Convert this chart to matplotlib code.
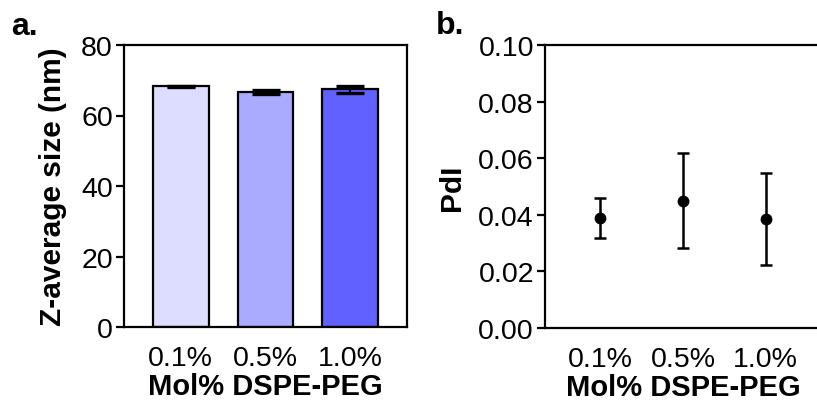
import matplotlib
matplotlib.use("Agg")
import matplotlib.pyplot as plt
import numpy as np

plt.rcParams['font.family'] = ['Liberation Sans', 'DejaVu Sans']

# data
groups = ['0.1%', '0.5%', '1.0%']
z_avg = [68.3, 66.6, 67.4]
z_err = [0.2, 0.5, 1.0]
bar_colors = ['#DDDDFF', '#AAAAFF', '#6161FF']

pdi = [0.0389, 0.0449, 0.0385]
pdi_lo = [0.0319, 0.0282, 0.0223]
pdi_hi = [0.0460, 0.0617, 0.0548]

fs = 20.5
lw = 1.6

fig = plt.figure(figsize=(8.17, 4.02), dpi=100)
ax1 = fig.add_axes([124/817, 74/402, 283/817, 282/402])
ax2 = fig.add_axes([545/817, 73/402, 276/817, 283/402])

x = np.arange(len(groups))

# panel a - bars
ax1.bar(x, z_avg, width=0.66, color=bar_colors, edgecolor='black', linewidth=lw, zorder=2)
ax1.errorbar(x, z_avg, yerr=z_err, fmt='none', ecolor='black', elinewidth=lw,
             capsize=10, capthick=lw * 1.5, zorder=3)
ax1.set_ylim(0, 80)
ax1.set_yticks([0, 20, 40, 60, 80])
ax1.set_ylabel('Z-average size (nm)', fontsize=21.5, fontweight='bold', labelpad=10)

# panel b - points with error bars
pdi_arr = np.array(pdi)
yerr = [pdi_arr - np.array(pdi_lo), np.array(pdi_hi) - pdi_arr]
ax2.errorbar(x, pdi, yerr=yerr, fmt='o', color='black', markersize=7.5,
             elinewidth=1.8, capsize=4, capthick=1.8, zorder=3)
ax2.set_ylim(0, 0.10)
ax2.set_yticks([0, 0.02, 0.04, 0.06, 0.08, 0.10])
ax2.set_yticklabels(['0.00', '0.02', '0.04', '0.06', '0.08', '0.10'])
ax2.set_ylabel('PdI', fontsize=21.5, fontweight='bold', labelpad=9)

for ax in (ax1, ax2):
    ax.set_xlim(-0.67, 2.67)
    ax.set_xticks(x)
    ax.set_xticklabels(groups)
    ax.set_xlabel('Mol% DSPE-PEG', fontsize=21, fontweight='bold', labelpad=1)
    ax.tick_params(axis='y', direction='out', length=6, width=lw, labelsize=fs, pad=2)
    ax.tick_params(axis='x', length=0, labelsize=fs, pad=13)
    for sp in ax.spines.values():
        sp.set_linewidth(lw)

fig.text(11/817, 1 - 35/402, 'a.', fontsize=23, fontweight='bold', va='baseline')
fig.text(436/817, 1 - 34/402, 'b.', fontsize=23, fontweight='bold', va='baseline')

fig.savefig('out.png', dpi=100)
